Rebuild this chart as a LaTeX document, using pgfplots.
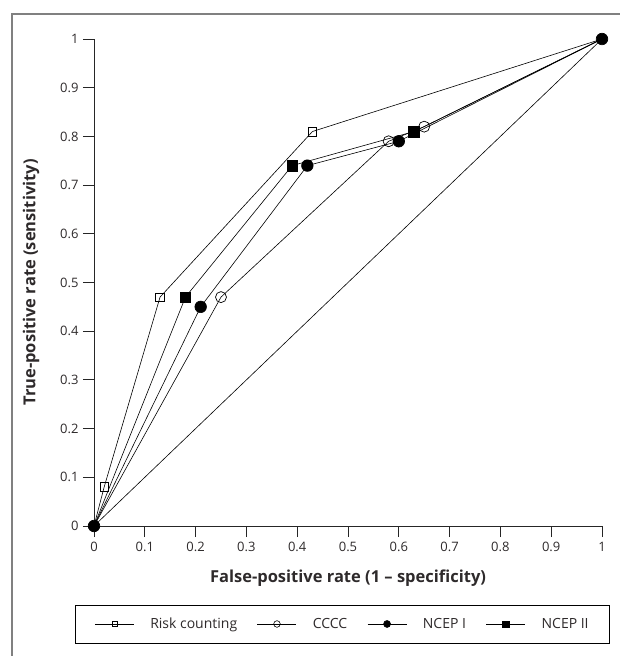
\documentclass[border=0pt]{standalone}
\usepackage{fontspec}
\setmainfont{Open Sans}
\usepackage{pgfplots}
\pgfplotsset{compat=1.18}
\definecolor{txt}{HTML}{2E2A2B}
\definecolor{framegray}{HTML}{808080}
\begin{document}
\begin{tikzpicture}
  % page is 620 x 656 px, axis origin at pixel (94,526)
  \useasboundingbox (-94pt,-130pt) rectangle (526pt,526pt);
  \draw[framegray, line width=1.3pt] (-82pt,-131pt) -- (-82pt,512pt) -- (527pt,512pt);
  \begin{axis}[
    at={(0,0)}, anchor=south west,
    scale only axis,
    width=508pt, height=487pt,
    xmin=0, xmax=1, ymin=0, ymax=1,
    clip=false,
    axis x line*=bottom, axis y line*=left,
    axis line style={line width=0.8pt, black!85},
    tick style={line width=0.8pt, black!85},
    tick align=outside,
    major tick length=11pt,
    xtick={0,0.1,...,1.01}, ytick={0,0.1,...,1.01},
    /pgf/number format/assume math mode=true,
    ticklabel style={font=\fontsize{13}{15}\selectfont, text=txt},
    xticklabel style={yshift=-2pt},
    yticklabel style={xshift=-1pt},
    xlabel={False-positive rate (1 – specificity)},
    ylabel={True-positive rate (sensitivity)},
    label style={font=\fontsize{16.5}{19}\selectfont\bfseries, text=txt},
    xlabel style={at={(axis description cs:0.5,-0.107)}, anchor=center},
    ylabel style={at={(axis description cs:-0.124,0.5)}, anchor=center},
    legend columns=-1,
    legend style={
      at={(0.4895,-0.2012)}, anchor=center,
      draw=black, line width=0.8pt,
      font=\fontsize{14}{17}\selectfont, text=txt,
      inner xsep=19pt, inner ysep=11pt,
      column sep=14pt,
      /tikz/every even column/.append style={column sep=18pt},
    },
    legend image code/.code={
      \draw[line width=0.6pt, mark repeat=2, mark phase=2,
            every mark/.append style={scale=0.6}]
        plot coordinates {(0pt,0pt) (19.5pt,0pt) (39pt,0pt)};
    },
  ]
    % legend, in the reference's order
    \addlegendimage{black, line width=0.6pt, mark=square, mark size=4.3pt, mark options={fill=white}}
    \addlegendentry{Risk counting}
    \addlegendimage{black, line width=0.6pt, mark=o, mark size=5.5pt, mark options={fill=white}}
    \addlegendentry{CCCC}
    \addlegendimage{black, line width=0.6pt, mark=*, mark size=5.8pt}
    \addlegendentry{NCEP I}
    \addlegendimage{black, line width=0.6pt, mark=square*, mark size=5.3pt}
    \addlegendentry{NCEP II}

    % chance line
    \addplot[black, line width=0.6pt, no marks, forget plot]
      coordinates {(0,0) (1,1)};

    % Risk counting
    \addplot[black, line width=0.6pt, mark=square, mark size=4.3pt,
             mark indices={2,3,4}, forget plot,
             mark options={fill=white, line width=0.6pt}]
      coordinates {(0,0) (0.02,0.08) (0.13,0.47) (0.43,0.81) (1,1)};

    % CCCC
    \addplot[black, line width=0.6pt, mark=o, mark size=5.5pt,
             mark indices={2,3,4}, forget plot,
             mark options={fill=white, line width=0.7pt}]
      coordinates {(0,0) (0.25,0.47) (0.58,0.79) (0.65,0.82) (1,1)};

    % NCEP II
    \addplot[black, line width=0.6pt, mark=square*, mark size=5.3pt,
             mark indices={2,3,4}, forget plot]
      coordinates {(0,0) (0.18,0.47) (0.39,0.74) (0.63,0.81) (1,1)};

    % NCEP I
    \addplot[black, line width=0.6pt, mark=*, mark size=5.8pt, forget plot]
      coordinates {(0,0) (0.21,0.45) (0.42,0.74) (0.60,0.79) (1,1)};
  \end{axis}
\end{tikzpicture}
\end{document}
